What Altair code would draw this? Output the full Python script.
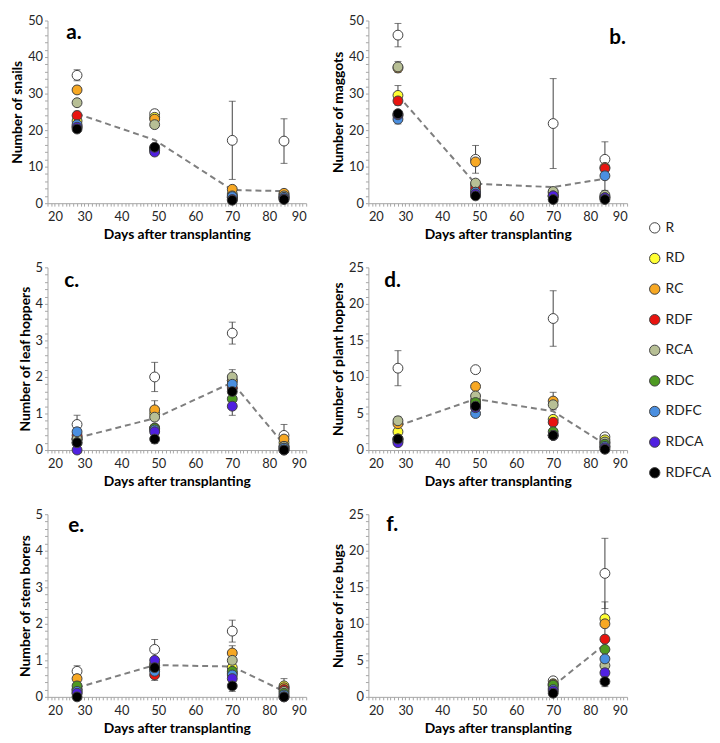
import altair as alt
import pandas as pd

days = [28, 49, 70, 84]
treatments = ["R", "RD", "RC", "RDF", "RCA", "RDC", "RDFC", "RDCA", "RDFCA"]
colors = ["#ffffff", "#ffff33", "#f7a823", "#e8140f", "#b7bf95", "#4e9a22", "#4a8fe0", "#5020e0", "#000000"]

# ---- a. snails ----
snails = {
    "R": [35, 24.5, 17.2, 17.0], "RD": [22.5, 23.5, 2.5, 2.4], "RC": [31, 23, 3.8, 2.7],
    "RDF": [24, 15.0, 1.5, 1.8], "RCA": [27.5, 21.5, 2.0, 2.0], "RDC": [21, 14.8, 1.5, 1.5],
    "RDFC": [21.5, 14.5, 1.8, 1.6], "RDCA": [20.8, 14.0, 1.0, 1.2], "RDFCA": [20.3, 15.3, 0.8, 1.0],
}
snails_line = [24.5, 17.3, 3.6, 3.3]
snails_err = {"R": [1.5, 1.0, 10.7, 6.1], "RC": [1.0, None, None, None], "RDF": [1.2, None, None, None]}

# ---- b. maggots ----
maggots = {
    "R": [46, 12, 21.8, 12], "RD": [29.5, 5.0, 3.0, 1.8], "RC": [37, 11.3, 2.5, 9.8],
    "RDF": [28, 4.0, 2.0, 9.5], "RCA": [37.3, 5.5, 3.2, 2.2], "RDC": [24, 3.0, 1.8, 1.5],
    "RDFC": [23, 3.0, 2.0, 7.5], "RDCA": [24.2, 2.5, 2.0, 1.5], "RDFCA": [24.5, 2.0, 1.0, 1.0],
}
maggots_line = [29.5, 5.3, 4.4, 6.7]
maggots_err = {"R": [3.2, 3.8, 12.3, 4.8], "RCA": [1.5, None, None, None],
               "RD": [2.7, None, None, None], "RDFC": [1.3, None, None, 4.0]}

# ---- c. leaf hoppers ----
leafhoppers = {
    "R": [0.7, 2.0, 3.2, 0.4], "RD": [0.3, 1.0, 1.9, 0.2], "RC": [0.3, 1.1, 1.9, 0.3],
    "RDF": [0.4, 0.6, 1.7, 0.1], "RCA": [0.3, 0.9, 2.0, 0.1], "RDC": [0.2, 0.6, 1.4, 0.05],
    "RDFC": [0.5, 0.55, 1.8, 0.05], "RDCA": [0.0, 0.5, 1.2, 0.0], "RDFCA": [0.2, 0.3, 1.6, 0.0],
}
leafhoppers_line = [0.33, 0.87, 1.85, 0.15]
leafhoppers_err = {"R": [0.25, 0.4, 0.3, 0.3], "RC": [None, 0.25, None, None],
                   "RDFCA": [None, 0.12, None, None], "RCA": [None, None, 0.2, None],
                   "RDCA": [None, None, 0.25, None]}

# ---- d. plant hoppers ----
planthoppers = {
    "R": [11.2, 11.0, 18.0, 1.8], "RD": [2.5, 6.8, 4.2, 1.4], "RC": [3.6, 8.7, 6.7, 1.0],
    "RDF": [1.5, 6.2, 3.8, 0.5], "RCA": [4.0, 7.4, 6.2, 1.1], "RDC": [1.5, 6.5, 2.5, 0.8],
    "RDFC": [1.2, 5.0, 2.0, 0.5], "RDCA": [1.0, 5.8, 2.0, 0.3], "RDFCA": [1.5, 6.0, 2.0, 0.1],
}
planthoppers_line = [3.3, 7.0, 5.3, 0.8]
planthoppers_err = {"R": [2.4, None, 3.8, 0.3], "RCA": [0.6, None, None, None],
                    "RC": [None, None, 1.2, None]}

# ---- e. stem borers ----
stemborers = {
    "R": [0.7, 1.3, 1.8, 0.25], "RD": [0.2, 0.8, 0.8, 0.3], "RC": [0.5, 0.9, 1.2, 0.25],
    "RDF": [0.1, 0.6, 0.65, 0.2], "RCA": [0.2, 0.85, 1.0, 0.15], "RDC": [0.3, 0.75, 0.7, 0.1],
    "RDFC": [0.15, 0.7, 0.6, 0.05], "RDCA": [0.1, 1.0, 0.5, 0.0], "RDFCA": [0.0, 0.8, 0.3, 0.0],
}
stemborers_line = [0.25, 0.87, 0.83, 0.15]
stemborers_err = {"R": [0.15, 0.27, 0.3, 0.25], "RDF": [None, 0.15, None, None],
                  "RDFCA": [None, None, 0.15, None], "RC": [None, None, 0.2, None]}

# ---- f. rice bugs (only days 70 and 84) ----
ricebugs = {
    "R": [None, None, 2.2, 16.9], "RD": [None, None, 1.8, 10.7], "RC": [None, None, 1.7, 10.0],
    "RDF": [None, None, 1.2, 7.9], "RCA": [None, None, 1.5, 4.3], "RDC": [None, None, 1.6, 6.5],
    "RDFC": [None, None, 1.0, 5.2], "RDCA": [None, None, 0.8, 3.3], "RDFCA": [None, None, 0.5, 2.1],
}
ricebugs_line = [None, None, 1.5, 7.2]
ricebugs_err = {"R": [None, None, 0.3, 4.8], "RD": [None, None, None, 2.3],
                "RDFCA": [None, None, None, 0.7]}

FONT = "Lato"
W, H = 262, 185

legend = alt.Legend(
    orient="right", offset=20, title=" ", titleFontSize=1, titlePadding=202,
    symbolType="circle", symbolSize=110, symbolStrokeColor="#404040", symbolStrokeWidth=1,
    labelFont=FONT, labelFontSize=14, labelColor="#222", rowPadding=15, padding=0,
)


def panel(vals, line, errs, ymax, minor, major, ytitle, letter, lx, ly):
    rows = []
    for i, t in enumerate(treatments):
        for d, v in zip(days, vals[t]):
            if v is not None:
                rows.append({"day": d, "treat": t, "value": v, "order": i})
    pts = pd.DataFrame(rows)
    erows = []
    for t, elist in errs.items():
        for d, v, e in zip(days, vals[t], elist):
            if e is not None and v is not None:
                erows.append({"day": d, "value": v, "lo": max(0, v - e), "hi": v + e})
    edf = pd.DataFrame(erows)
    ldf = pd.DataFrame([{"day": d, "value": v} for d, v in zip(days, line) if v is not None])

    xscale = alt.Scale(domain=[20, 90], nice=False, zero=False)
    yscale = alt.Scale(domain=[0, ymax], nice=False)
    xaxis = alt.Axis(
        values=list(range(20, 91)),
        labelExpr="datum.value % 10 == 0 ? toString(datum.value) : ''",
        title="Days after transplanting", tickSize=3, labelOverlap=False, grid=False,
        labelPadding=5, titlePadding=4,
    )
    n = int(round(ymax / minor))
    yvals = [round(i * minor, 4) for i in range(n + 1)]
    yaxis = alt.Axis(
        values=yvals,
        labelExpr=f"abs(datum.value/{major} - round(datum.value/{major})) < 0.001 ? toString(round(datum.value)) : ''",
        title=ytitle, tickSize=3, labelOverlap=False, grid=False, labelPadding=2, titlePadding=3,
    )
    X = lambda f: alt.X(f"{f}:Q", scale=xscale, axis=xaxis)
    Y = lambda f: alt.Y(f"{f}:Q", scale=yscale, axis=yaxis)

    ln = alt.Chart(ldf).mark_line(color="#7f7f7f", strokeDash=[6, 4], strokeWidth=2).encode(
        x=X("day"), y=Y("value"))
    rule = alt.Chart(edf).mark_rule(color="#404040", strokeWidth=1).encode(
        x=X("day"), y=Y("lo"), y2="hi:Q")
    cap_lo = alt.Chart(edf).mark_tick(orient="horizontal", size=7, thickness=1, color="#404040").encode(
        x=X("day"), y=Y("lo"))
    cap_hi = alt.Chart(edf).mark_tick(orient="horizontal", size=7, thickness=1, color="#404040").encode(
        x=X("day"), y=Y("hi"))
    pts_layer = alt.Chart(pts).mark_circle(size=100, opacity=1, stroke="#404040", strokeWidth=1).encode(
        x=X("day"), y=Y("value"),
        color=alt.Color("treat:N", scale=alt.Scale(domain=treatments, range=colors), legend=legend),
        order=alt.Order("order:Q"),
    )
    txt = alt.Chart(pd.DataFrame({"t": [letter]})).mark_text(
        align="left", baseline="middle", fontSize=21, fontWeight="bold", font=FONT, color="#000"
    ).encode(x=alt.value(lx), y=alt.value(ly), text="t:N")
    return alt.layer(ln, rule, cap_lo, cap_hi, pts_layer, txt).properties(width=W, height=H)


pa = panel(snails, snails_line, snails_err, 50, 2, 10, "Number of snails", "a.", 19, 13)
pb = panel(maggots, maggots_line, maggots_err, 50, 2, 10, "Number of maggots", "b.", 244, 18)
pc = panel(leafhoppers, leafhoppers_line, leafhoppers_err, 5, 0.2, 1, "Number of leaf hoppers", "c.", 17, 14)
pd_ = panel(planthoppers, planthoppers_line, planthoppers_err, 25, 1, 5, "Number of plant hoppers", "d.", 16, 14)
pe = panel(stemborers, stemborers_line, stemborers_err, 5, 0.2, 1, "Number of stem borers", "e.", 21, 12)
pf = panel(ricebugs, ricebugs_line, ricebugs_err, 25, 1, 5, "Number of rice bugs", "f.", 18, 11)

chart = alt.concat(pa, pb, pc, pd_, pe, pf, columns=2, spacing={"row": 20, "column": 24}).properties(
    padding={"left": 2, "top": 2, "right": 0, "bottom": 0}
).configure_axis(
    labelFont=FONT, labelFontSize=13, labelColor="#262626",
    titleFont=FONT, titleFontSize=14, titleFontWeight="bold", titleColor="#000",
    domainColor="#a6a6a6", tickColor="#a6a6a6",
).configure_view(stroke=None)

chart.save("out.html", embed_options={"renderer": "svg", "actions": False})
